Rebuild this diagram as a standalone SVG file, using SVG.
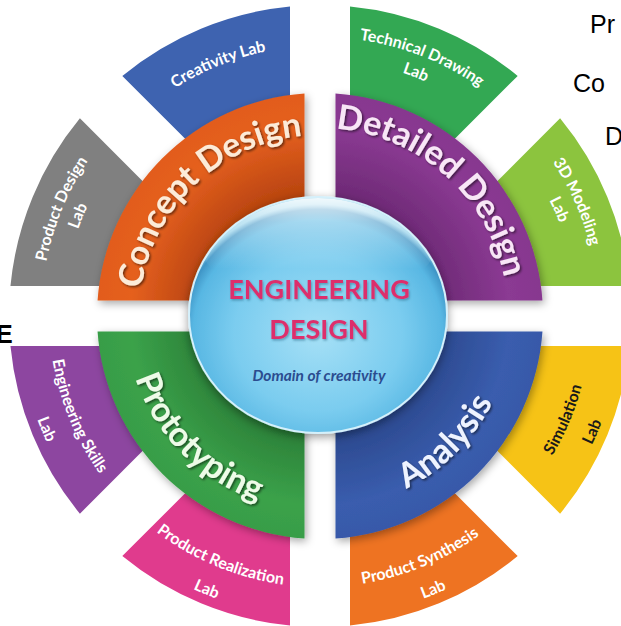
<svg xmlns="http://www.w3.org/2000/svg" width="621" height="626" viewBox="0 0 621 626">
<defs>
<style>
.band{filter:url(#sh)}
.main{font-family:Lato,"Open Sans",sans-serif;font-weight:700;font-size:34px;filter:url(#ts)}
.lab{font-family:Lato,"Open Sans",sans-serif;font-weight:700;font-size:16px;fill:#fff}
.frag{font-family:"Liberation Sans",Arial,sans-serif;font-size:25px;fill:#000}
.ctr{font-family:Lato,"Open Sans",sans-serif;text-anchor:middle}
</style>
<filter id="sh" x="-20%" y="-20%" width="140%" height="140%"><feDropShadow dx="2" dy="3" stdDeviation="4" flood-color="#000" flood-opacity="0.35"/></filter>
<filter id="ts" x="-10%" y="-10%" width="120%" height="120%"><feDropShadow dx="1.5" dy="1.5" stdDeviation="1" flood-color="#000" flood-opacity="0.55"/></filter>
<filter id="bs" x="-20%" y="-20%" width="140%" height="140%"><feDropShadow dx="0" dy="3" stdDeviation="5" flood-color="#000" flood-opacity="0.4"/></filter>
<filter id="cs" x="-10%" y="-20%" width="120%" height="140%"><feDropShadow dx="1" dy="1.5" stdDeviation="1.2" flood-color="#2a6f8f" flood-opacity="0.6"/></filter>
<clipPath id="ballclip"><ellipse cx="318" cy="315" rx="128" ry="117"/></clipPath>
<radialGradient id="gball" cx="50%" cy="58%" r="55%">
<stop offset="0" stop-color="#a6e0f6"/><stop offset="0.6" stop-color="#7accef"/><stop offset="0.88" stop-color="#58b7e3"/><stop offset="0.96" stop-color="#3f95c6"/><stop offset="1" stop-color="#8fd0ea"/>
</radialGradient>
<linearGradient id="ghl" x1="0" y1="0" x2="0" y2="1">
<stop offset="0" stop-color="#fff" stop-opacity="0.9"/><stop offset="0.25" stop-color="#fff" stop-opacity="0.45"/><stop offset="0.7" stop-color="#fff" stop-opacity="0"/>
</linearGradient>
<radialGradient id="gO" gradientUnits="userSpaceOnUse" cx="320" cy="316" r="223"><stop offset="0.55" stop-color="#b8440f"/><stop offset="0.85" stop-color="#e5601f"/><stop offset="1" stop-color="#e25c1c"/></radialGradient>
<radialGradient id="gP" gradientUnits="userSpaceOnUse" cx="320" cy="316" r="223"><stop offset="0.55" stop-color="#6e2a76"/><stop offset="0.85" stop-color="#8b3a93"/><stop offset="1" stop-color="#87378f"/></radialGradient>
<radialGradient id="gB" gradientUnits="userSpaceOnUse" cx="320" cy="316" r="223"><stop offset="0.55" stop-color="#2c4a90"/><stop offset="0.85" stop-color="#3a5dae"/><stop offset="1" stop-color="#3859a9"/></radialGradient>
<radialGradient id="gG" gradientUnits="userSpaceOnUse" cx="320" cy="316" r="223"><stop offset="0.55" stop-color="#2c8239"/><stop offset="0.85" stop-color="#3ba24a"/><stop offset="1" stop-color="#389d47"/></radialGradient>
<path id="tpConcept" d="M 139.34 327.05 A 181 181 0 0 1 340.49 136.16"/>
<path id="tpDetailed" d="M 292.21 130.06 A 188 188 0 0 1 507.94 320.92"/>
<path id="tpProto" d="M 125.74 299.0 A 195 195 0 0 0 337.0 510.26"/>
<path id="tpAnalysis" d="M 303.18 508.26 A 193 193 0 0 0 512.26 299.18"/>
<path id="tpPD1" d="M 47.61 376.39 A 279 279 0 0 1 170.09 80.69"/>
<path id="tpPD2" d="M 69.09 371.63 A 257 257 0 0 1 181.91 99.25"/>
<path id="tpCR" d="M 93.56 168.95 A 270 270 0 0 1 380.74 52.92"/>
<path id="tpTD1" d="M 254.87 44.71 A 279 279 0 0 1 552.66 162.01"/>
<path id="tpTD2" d="M 260.0 66.1 A 257 257 0 0 1 534.31 174.15"/>
<path id="tp3D1" d="M 463.70 76.85 A 279 279 0 0 1 593.87 369.24"/>
<path id="tp3D2" d="M 452.37 95.71 A 257 257 0 0 1 572.28 365.04"/>
<path id="tpSI1" d="M 463.61 545.82 A 271 271 0 0 0 585.08 259.66"/>
<path id="tpSI2" d="M 479.51 571.26 A 301 301 0 0 0 614.42 253.42"/>
<path id="tpPS1" d="M 261.34 580.58 A 271 271 0 0 0 548.56 461.61"/>
<path id="tpPS2" d="M 254.85 609.87 A 301 301 0 0 0 573.86 477.73"/>
<path id="tpPR1" d="M 91.44 461.61 A 271 271 0 0 0 378.66 580.58"/>
<path id="tpPR2" d="M 66.14 477.73 A 301 301 0 0 0 385.15 609.87"/>
<path id="tpES1" d="M 55.42 257.34 A 271 271 0 0 0 174.39 544.56"/>
<path id="tpES2" d="M 26.13 250.85 A 301 301 0 0 0 158.27 569.86"/>
</defs>
<rect width="621" height="626" fill="#fff"/>

<g id="fragments">
<text class="frag" x="590" y="33">Pr</text>
<text class="frag" x="573" y="92">Co</text>
<text class="frag" x="605" y="145">D</text>
<text class="frag" x="-4" y="343" font-size="33" font-weight="700">E</text>
</g>

<g id="labs">
<g id="lab-product-design">
<path d="M 107.1 286 L 10.45 286 A 311 311 0 0 1 79.9 118.3 L 148.25 186.67 A 215 215 0 0 0 107.1 286 Z" fill="#808080"/>
<text class="lab"><textPath href="#tpPD1" startOffset="50%" text-anchor="middle">Product Design</textPath></text>
<text class="lab"><textPath href="#tpPD2" startOffset="50%" text-anchor="middle">Lab</textPath></text>
</g>
<g id="lab-creativity">
<path d="M 190.67 144.25 L 122.32 75.9 A 311 311 0 0 1 290 6.45 L 290 103.1 A 215 215 0 0 0 190.67 144.25 Z" fill="#3e63b0"/>
<text class="lab"><textPath href="#tpCR" startOffset="50%" text-anchor="middle">Creativity Lab</textPath></text>
</g>
<g id="lab-technical-drawing">
<path d="M 350 103.1 L 350 6.45 A 311 311 0 0 1 517.68 75.9 L 449.33 144.25 A 215 215 0 0 0 350 103.1 Z" fill="#33a853"/>
<text class="lab"><textPath href="#tpTD1" startOffset="50%" text-anchor="middle">Technical Drawing</textPath></text>
<text class="lab"><textPath href="#tpTD2" startOffset="50%" text-anchor="middle">Lab</textPath></text>
</g>
<g id="lab-3d-modeling">
<path d="M 491.75 186.67 L 560.1 118.32 A 311 311 0 0 1 629.55 286 L 532.9 286 A 215 215 0 0 0 491.75 186.67 Z" fill="#8cc43e"/>
<text class="lab"><textPath href="#tp3D1" startOffset="50%" text-anchor="middle">3D Modeling</textPath></text>
<text class="lab"><textPath href="#tp3D2" startOffset="50%" text-anchor="middle">Lab</textPath></text>
</g>
<g id="lab-simulation">
<path d="M 532.9 346 L 629.55 346 A 311 311 0 0 1 560.1 513.68 L 491.75 445.33 A 215 215 0 0 0 532.9 346 Z" fill="#f6c316"/>
<text class="lab" style="fill:#1a1a1a"><textPath href="#tpSI1" startOffset="50%" text-anchor="middle">Simulation</textPath></text>
<text class="lab" style="fill:#1a1a1a"><textPath href="#tpSI2" startOffset="50%" text-anchor="middle">Lab</textPath></text>
</g>
<g id="lab-product-synthesis">
<path d="M 449.33 487.75 L 517.68 556.1 A 311 311 0 0 1 350 625.55 L 350 528.9 A 215 215 0 0 0 449.33 487.75 Z" fill="#ee7322"/>
<text class="lab"><textPath href="#tpPS1" startOffset="50%" text-anchor="middle">Product Synthesis</textPath></text>
<text class="lab"><textPath href="#tpPS2" startOffset="50%" text-anchor="middle">Lab</textPath></text>
</g>
<g id="lab-product-realization">
<path d="M 290 528.9 L 290 625.55 A 311 311 0 0 1 122.32 556.1 L 190.67 487.75 A 215 215 0 0 0 290 528.9 Z" fill="#e03b8d"/>
<text class="lab"><textPath href="#tpPR1" startOffset="50%" text-anchor="middle">Product Realization</textPath></text>
<text class="lab"><textPath href="#tpPR2" startOffset="50%" text-anchor="middle">Lab</textPath></text>
</g>
<g id="lab-engineering-skills">
<path d="M 148.25 445.33 L 79.9 513.68 A 311 311 0 0 1 10.45 346 L 107.1 346 A 215 215 0 0 0 148.25 445.33 Z" fill="#8d46a0"/>
<text class="lab"><textPath href="#tpES1" startOffset="50%" text-anchor="middle">Engineering Skills</textPath></text>
<text class="lab"><textPath href="#tpES2" startOffset="50%" text-anchor="middle">Lab</textPath></text>
</g>
</g>

<g id="phases">
<g id="concept-design">
<path class="band" d="M 304.5 300.5 L 97.54 300.5 A 223 223 0 0 1 304.5 93.54 Z" fill="url(#gO)"/>
<text class="main" fill="#fcebd8"><textPath href="#tpConcept" startOffset="50%" text-anchor="middle">Concept Design</textPath></text>
</g>
<g id="detailed-design">
<path class="band" d="M 335.5 300.5 L 335.5 93.54 A 223 223 0 0 1 542.46 300.5 Z" fill="url(#gP)"/>
<text class="main" fill="#f8e6f6"><textPath href="#tpDetailed" startOffset="50%" text-anchor="middle">Detailed Design</textPath></text>
</g>
<g id="analysis">
<path class="band" d="M 335.5 331.5 L 542.46 331.5 A 223 223 0 0 1 335.5 538.46 Z" fill="url(#gB)"/>
<text class="main" fill="#eef3ff"><textPath href="#tpAnalysis" startOffset="50%" text-anchor="middle">Analysis</textPath></text>
</g>
<g id="prototyping">
<path class="band" d="M 304.5 331.5 L 304.5 538.46 A 223 223 0 0 1 97.54 331.5 Z" fill="url(#gG)"/>
<text class="main" fill="#eefbe8"><textPath href="#tpProto" startOffset="50%" text-anchor="middle">Prototyping</textPath></text>
</g>
</g>

<g id="engineering-design">
<ellipse cx="318" cy="315" rx="129" ry="118" fill="url(#gball)" stroke="#d4f0fb" stroke-width="2" filter="url(#bs)"/>
<ellipse cx="318" cy="248" rx="116" ry="52" fill="url(#ghl)" clip-path="url(#ballclip)"/>
<text class="ctr" x="319" y="299" font-size="27" font-weight="700" fill="#dd2f6c" filter="url(#cs)">ENGINEERING</text>
<text class="ctr" x="319" y="339" font-size="27" font-weight="700" fill="#dd2f6c" filter="url(#cs)">DESIGN</text>
<text class="ctr" x="319" y="381" font-size="15.5" font-weight="700" font-style="italic" fill="#2b4c8f">Domain of creativity</text>
</g>

<g id="connectors"/>
</svg>
